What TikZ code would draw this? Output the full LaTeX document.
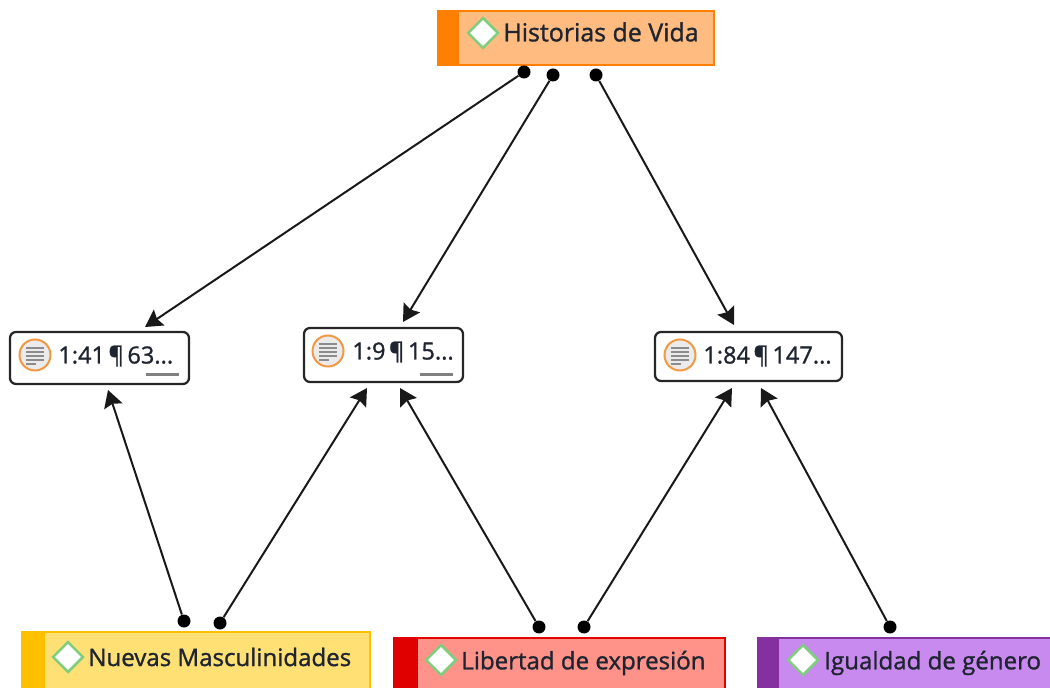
\documentclass[tikz,border=0pt]{standalone}
\usepackage{fontspec}
\setmainfont{Open Sans}
\newfontfamily\labelfont{Open Sans}[FakeBold=1.2]
\usetikzlibrary{arrows.meta,shapes.geometric}
\definecolor{histfill}{HTML}{FFBB80}
\definecolor{histdark}{HTML}{FF8000}
\definecolor{nuevfill}{HTML}{FFE074}
\definecolor{nuevdark}{HTML}{FFC000}
\definecolor{libefill}{HTML}{FF9389}
\definecolor{libedark}{HTML}{E00000}
\definecolor{iguafill}{HTML}{C88AEE}
\definecolor{iguadark}{HTML}{8530A0}
\definecolor{inktext}{HTML}{1E2430}
\tikzset{
  codebox/.style={rectangle,draw,line width=0.04cm,outer sep=0pt,anchor=north west,minimum height=1.4cm},
  stripe/.style={rectangle,anchor=north west,outer sep=0pt,inner sep=0pt,minimum height=1.4cm},
  quotebox/.style={rectangle,rounded corners=0.12cm,draw=black!85,line width=0.045cm,outer sep=0pt,fill=white,anchor=north west},
  lozenge/.style={diamond,draw=green!45!gray!70,fill=white,line width=0.05cm,inner sep=0pt,minimum width=0.62cm,minimum height=0.62cm},
  docicon/.style={circle,draw=orange!70!brown!80,fill=white!92!black,line width=0.04cm,inner sep=0pt,minimum size=0.62cm},
  label/.style={anchor=west,inner sep=0pt,text=inktext,font=\labelfont\fontsize{13.7}{15}\selectfont},
  quotelabel/.style={label,font=\labelfont\fontsize{13.4}{15}\selectfont},
  dot/.style={circle,fill=black,inner sep=0pt,minimum size=0.26cm},
  link/.style={line width=0.04cm,black!90,-{Stealth[length=0.34cm,width=0.38cm,inset=0.05cm]}},
  bar/.style={line width=0.06cm,black!50}
}
\begin{document}
\begin{tikzpicture}[x=0.02cm,y=-0.02cm]
\clip (0,0) rectangle (1050,688);
\useasboundingbox (0,0) rectangle (1050,688);

% top code
\node[codebox,draw=histdark,fill=histfill,minimum width=5.52cm,minimum height=1.08cm] (hist) at (438,11) {};
\node[stripe,fill=histdark,minimum width=0.42cm,minimum height=1.08cm] (histbar) at (438,11) {};
\node[lozenge] (histmark) at (483,33) {};
\node[label,font=\labelfont\fontsize{14.2}{15}\selectfont] (histtext) at (503,32) {Historias de Vida};

% quotations
\node[quotebox,minimum width=3.58cm,minimum height=1.04cm] (q41) at (10,332) {};
\node[quotebox,minimum width=3.18cm,minimum height=1.08cm] (q9) at (304,328) {};
\node[quotebox,minimum width=3.74cm,minimum height=0.98cm] (q84) at (655,332) {};
\node[docicon] (q41icon) at (35,355) {};
\node[docicon] (q9icon) at (328,351) {};
\node[docicon] (q84icon) at (680,355) {};
\foreach \n in {q41icon,q9icon,q84icon} {
  \draw[black!45,line width=0.03cm] ([shift={(-9,-7)}]\n.center) -- ++(18,0)
    ([shift={(-9,-3)}]\n.center) -- ++(18,0)
    ([shift={(-9,1)}]\n.center) -- ++(18,0)
    ([shift={(-9,5)}]\n.center) -- ++(18,0)
    ([shift={(-9,9)}]\n.center) -- ++(10,0);
}
\node[quotelabel] (q41text) at (58,356) {1:41\hspace{2pt}¶\hspace{2pt}63...};
\node[quotelabel] (q9text) at (352,352) {1:9\hspace{2pt}¶\hspace{2pt}15...};
\node[quotelabel] (q84text) at (703,356) {1:84\hspace{2pt}¶\hspace{2pt}147...};
\draw[bar] (146,375) -- (179,375);
\draw[bar] (420,375) -- (453,375);

% bottom codes
\node[codebox,draw=nuevdark,fill=nuevfill,minimum width=6.96cm] (nuev) at (22,632) {};
\node[stripe,fill=nuevdark,minimum width=0.46cm] (nuevbar) at (22,632) {};
\node[lozenge] (nuevmark) at (68,657) {};
\node[label] (nuevtext) at (88,657) {Nuevas Masculinidades};
\node[codebox,draw=libedark,fill=libefill,minimum width=6.62cm] (libe) at (394,638) {};
\node[stripe,fill=libedark,minimum width=0.48cm] (libebar) at (394,638) {};
\node[lozenge] (libemark) at (441,660) {};
\node[label] (libetext) at (461,663) {Libertad de expresión};
\node[codebox,draw=iguadark,fill=iguafill,minimum width=6.2cm] (igua) at (758,638) {};
\node[stripe,fill=iguadark,minimum width=0.42cm] (iguabar) at (758,638) {};
\node[lozenge] (iguamark) at (803,660) {};
\node[label] (iguatext) at (824,663) {Igualdad de género};

% link ends
\node[dot] (d1) at (524,72) {};
\node[dot] (d2) at (553,75) {};
\node[dot] (d3) at (596,75) {};
\node[dot] (d4) at (184,621) {};
\node[dot] (d5) at (220,623) {};
\node[dot] (d6) at (539,627) {};
\node[dot] (d7) at (584,627) {};
\node[dot] (d8) at (890,627) {};
\coordinate (t1) at (145,327);
\coordinate (t2) at (403,322);
\coordinate (t3) at (734,325);
\coordinate (t4) at (108,390);
\coordinate (t5) at (367,388);
\coordinate (t6) at (400,388);
\coordinate (t7) at (732,388);
\coordinate (t8) at (761,388);
\draw[link] (d1) -- (t1);
\draw[link] (d2) -- (t2);
\draw[link] (d3) -- (t3);
\draw[link] (d4) -- (t4);
\draw[link] (d5) -- (t5);
\draw[link] (d6) -- (t6);
\draw[link] (d7) -- (t7);
\draw[link] (d8) -- (t8);
\end{tikzpicture}
\end{document}
